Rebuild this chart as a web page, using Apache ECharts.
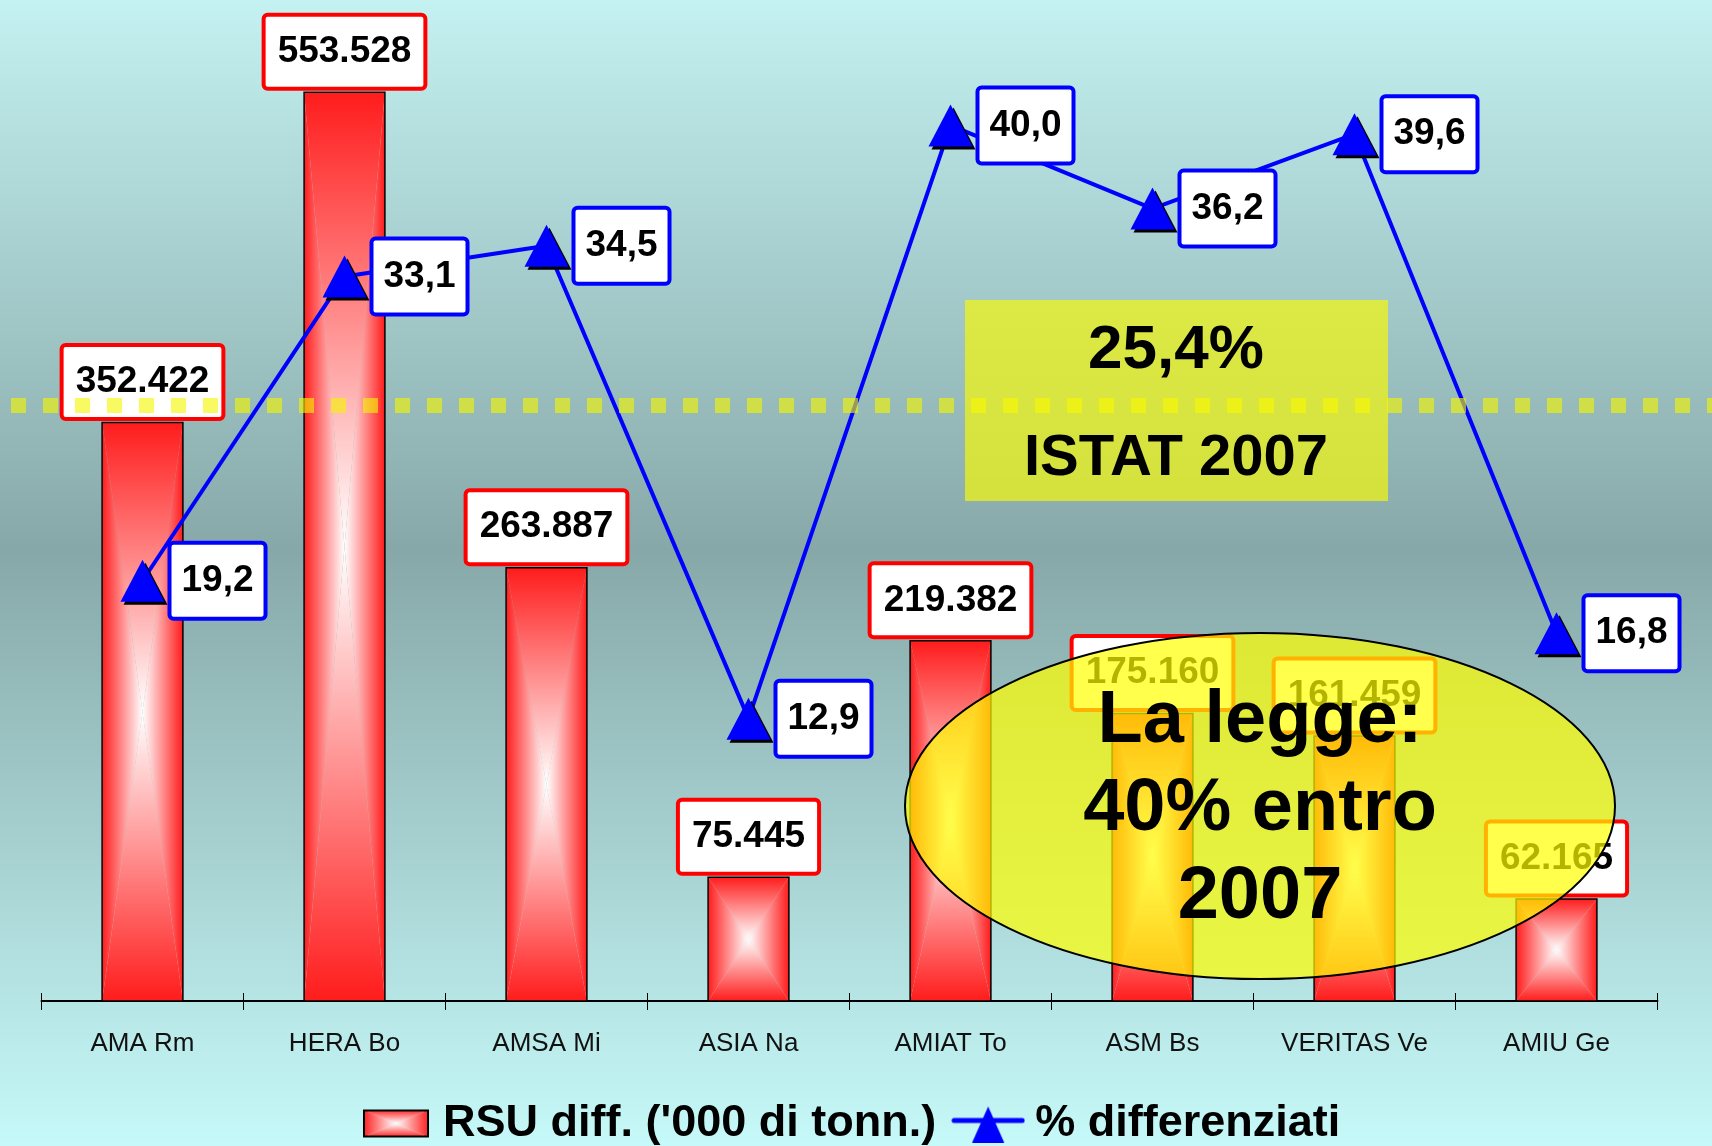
<!DOCTYPE html>
<html>
<head>
<meta charset="utf-8">
<script src="https://cdn.jsdelivr.net/npm/echarts@6/dist/echarts.min.js"></script>
<style>
  html, body { margin: 0; padding: 0; }
  #chart { width: 1712px; height: 1146px; }
</style>
</head>
<body>
<div id="chart"></div>
<script>
// dati
const categories = ['AMA Rm', 'HERA Bo', 'AMSA Mi', 'ASIA Na', 'AMIAT To', 'ASM Bs', 'VERITAS Ve', 'AMIU Ge'];
const rsuDiff = [352.422, 553.528, 263.887, 75.445, 219.382, 175.160, 161.459, 62.165];
const percDiff = [19.2, 33.1, 34.5, 12.9, 40.0, 36.2, 39.6, 16.8];
const seriesNames = ["RSU diff. ('000 di tonn.)", '% differenziati'];
const istatLine = 27.2;
const istatText = ['25,4%', 'ISTAT 2007'];
const leggeText = 'La legge:\n40% entro\n2007';

const RED = '#ff1c1c';
const BLUE = '#0000ff';
const LG = echarts.graphic.LinearGradient;

// gradiente "dal centro": 4 triangoli rosso -> bianco
function centerGradient(l, t, r, b) {
  const cx = (l + r) / 2, cy = (t + b) / 2;
  const st = (a, c) => [{ offset: 0, color: a }, { offset: 1, color: c }];
  return [
    { type: 'polygon', shape: { points: [[l, t], [r, t], [cx, cy]] }, style: { fill: new LG(0, 0, 0, 1, st(RED, '#fff')) } },
    { type: 'polygon', shape: { points: [[l, b], [r, b], [cx, cy]] }, style: { fill: new LG(0, 0, 0, 1, st('#fff', RED)) } },
    { type: 'polygon', shape: { points: [[l, t], [l, b], [cx, cy]] }, style: { fill: new LG(0, 0, 1, 0, st(RED, '#fff')) } },
    { type: 'polygon', shape: { points: [[r, t], [r, b], [cx, cy]] }, style: { fill: new LG(0, 0, 1, 0, st('#fff', RED)) } }
  ];
}

// icone legenda disegnate su canvas (74x38)
const IW = 74, IH = 38;
function barIcon() {
  const c = document.createElement('canvas');
  c.width = IW; c.height = IH;
  const ctx = c.getContext('2d');
  const x0 = 4, y0 = 5, w = 66, h = 28;
  const cx = x0 + w / 2, cy = y0 + h / 2;
  const tri = (pts, g) => {
    ctx.beginPath();
    ctx.moveTo(pts[0][0], pts[0][1]);
    ctx.lineTo(pts[1][0], pts[1][1]);
    ctx.lineTo(pts[2][0], pts[2][1]);
    ctx.closePath();
    ctx.fillStyle = g;
    ctx.fill();
  };
  let g = ctx.createLinearGradient(0, y0, 0, cy); g.addColorStop(0, RED); g.addColorStop(1, '#fff');
  tri([[x0, y0], [x0 + w, y0], [cx, cy]], g);
  g = ctx.createLinearGradient(0, y0 + h, 0, cy); g.addColorStop(0, RED); g.addColorStop(1, '#fff');
  tri([[x0, y0 + h], [x0 + w, y0 + h], [cx, cy]], g);
  g = ctx.createLinearGradient(x0, 0, cx, 0); g.addColorStop(0, RED); g.addColorStop(1, '#fff');
  tri([[x0, y0], [x0, y0 + h], [cx, cy]], g);
  g = ctx.createLinearGradient(x0 + w, 0, cx, 0); g.addColorStop(0, RED); g.addColorStop(1, '#fff');
  tri([[x0 + w, y0], [x0 + w, y0 + h], [cx, cy]], g);
  ctx.strokeStyle = '#000';
  ctx.lineWidth = 2;
  ctx.strokeRect(x0 + 1, y0 + 1, w - 2, h - 2);
  return 'image://' + c.toDataURL();
}
function lineIcon() {
  const c = document.createElement('canvas');
  c.width = IW; c.height = IH;
  const ctx = c.getContext('2d');
  ctx.strokeStyle = BLUE;
  ctx.lineWidth = 5;
  ctx.lineCap = 'round';
  ctx.beginPath();
  ctx.moveTo(3, 16); ctx.lineTo(IW - 3, 16);
  ctx.stroke();
  ctx.fillStyle = BLUE;
  ctx.beginPath();
  ctx.moveTo(IW / 2, 2); ctx.lineTo(IW / 2 + 16, IH); ctx.lineTo(IW / 2 - 16, IH);
  ctx.closePath();
  ctx.fill();
  return 'image://' + c.toDataURL();
}

const chart = echarts.init(document.getElementById('chart'));

const option = {
  animation: false,
  textStyle: { fontFamily: '"Liberation Sans", Arial, sans-serif' },
  grid: { left: 41.5, right: 54.5, top: 16, bottom: 145, containLabel: false, outerBoundsMode: 'none' },
  legend: {
    top: 1096,
    left: 354,
    itemWidth: IW,
    itemHeight: IH,
    itemGap: 15,
    textStyle: { fontSize: 45, fontWeight: 'bold', color: '#000', padding: [0, 0, 0, 5] },
    data: [
      { name: seriesNames[0], icon: barIcon() },
      { name: seriesNames[1], icon: lineIcon() }
    ]
  },
  xAxis: [
    {
      type: 'category',
      data: categories,
      axisLine: { lineStyle: { color: '#000', width: 2 } },
      axisTick: { show: true, length: 9, interval: 0, lineStyle: { color: '#000', width: 1 } },
      axisLabel: { interval: 0, margin: 30, fontSize: 26, color: '#111' }
    },
    {
      // tacche interne, così la tacca attraversa l'asse
      type: 'category',
      data: categories,
      position: 'bottom',
      axisLine: { show: false },
      axisTick: { show: true, inside: true, length: 8, interval: 0, lineStyle: { color: '#000', width: 1 } },
      axisLabel: { show: false }
    }
  ],
  yAxis: [
    { type: 'value', min: 0, max: 600, show: false },
    { type: 'value', min: 0, max: 45, show: false }
  ],
  series: [
    {
      name: seriesNames[0],
      type: 'custom',
      xAxisIndex: 0,
      yAxisIndex: 0,
      data: rsuDiff.map((v, i) => [i, v]),
      encode: { x: 0, y: 1 },
      renderItem: function (params, api) {
        const i = api.value(0), v = api.value(1);
        const top = api.coord([i, v]);
        const base = api.coord([i, 0]);
        const w = api.size([1, 0])[0] * 0.4;
        const l = top[0] - w / 2, r = top[0] + w / 2;
        const kids = centerGradient(l, top[1], r, base[1]);
        kids.push({
          type: 'rect',
          shape: { x: l, y: top[1], width: w, height: base[1] - top[1] },
          style: { fill: 'none', stroke: '#000', lineWidth: 1.5 },
          textContent: {
            style: {
              text: v.toFixed(3),
              fontSize: 37,
              fontWeight: 'bold',
              fontFamily: '"Liberation Sans", Arial, sans-serif',
              fill: '#000',
              backgroundColor: '#fff',
              borderColor: '#ff0000',
              borderWidth: 4,
              borderRadius: 2,
              padding: [15, 12],
              lineHeight: 40
            }
          },
          textConfig: { position: 'top', distance: 3 }
        });
        return { type: 'group', children: kids };
      },
      z: 2
    },
    {
      name: seriesNames[1],
      type: 'line',
      yAxisIndex: 1,
      data: percDiff,
      symbol: 'triangle',
      symbolSize: [44, 42],
      showAllSymbol: true,
      lineStyle: { color: BLUE, width: 4 },
      itemStyle: { color: BLUE, shadowColor: '#000', shadowOffsetX: 3, shadowOffsetY: 3, shadowBlur: 0 },
      label: {
        show: true,
        position: 'right',
        distance: 7,
        formatter: p => p.value.toFixed(1).replace('.', ','),
        fontSize: 37,
        fontWeight: 'bold',
        color: '#000',
        backgroundColor: '#fff',
        borderColor: BLUE,
        borderWidth: 4,
        borderRadius: 2,
        padding: [16, 10],
        lineHeight: 40
      },
      z: 3
    }
  ]
};

chart.setOption(option);

const yIstat = chart.convertToPixel({ yAxisIndex: 1 }, istatLine);
const shadowTxt = { fill: '#000', fontWeight: 'bold', fontFamily: '"Liberation Sans", Arial, sans-serif',
  align: 'center', verticalAlign: 'middle', textShadowColor: '#fff', textShadowOffsetX: 3, textShadowOffsetY: 3, textShadowBlur: 0 };

chart.setOption({
  graphic: [
    {
      type: 'rect', silent: true, z: -10,
      shape: { x: 0, y: 0, width: 1712, height: 1146 },
      style: { fill: new LG(0, 0, 0, 1, [
        { offset: 0, color: '#c4f1f1' },
        { offset: 0.48, color: '#87a8a8' },
        { offset: 1, color: '#c6f9f9' }
      ]) }
    },
    {
      type: 'line', silent: true, z: 50,
      shape: { x1: 11, y1: yIstat, x2: 1712, y2: yIstat },
      style: { stroke: 'rgba(245,245,0,0.62)', lineWidth: 15, lineDash: [15, 17] }
    },
    {
      type: 'rect', silent: true, z: 60,
      shape: { x: 965, y: 300, width: 423, height: 201 },
      style: { fill: 'rgba(250,250,0,0.66)' }
    },
    { type: 'text', silent: true, z: 61, x: 1176, y: 351, style: Object.assign({ text: istatText[0], fontSize: 62 }, shadowTxt) },
    { type: 'text', silent: true, z: 61, x: 1176, y: 459, style: Object.assign({ text: istatText[1], fontSize: 58 }, shadowTxt) },
    {
      type: 'ellipse', silent: true, z: 100,
      shape: { cx: 1260, cy: 806, rx: 355, ry: 173 },
      style: { fill: 'rgba(255,255,0,0.7)', stroke: '#000', lineWidth: 2 }
    },
    { type: 'text', silent: true, z: 101, x: 1260, y: 810, style: Object.assign({ text: leggeText, fontSize: 74, lineHeight: 88 }, shadowTxt) }
  ]
});
</script>
</body>
</html>
